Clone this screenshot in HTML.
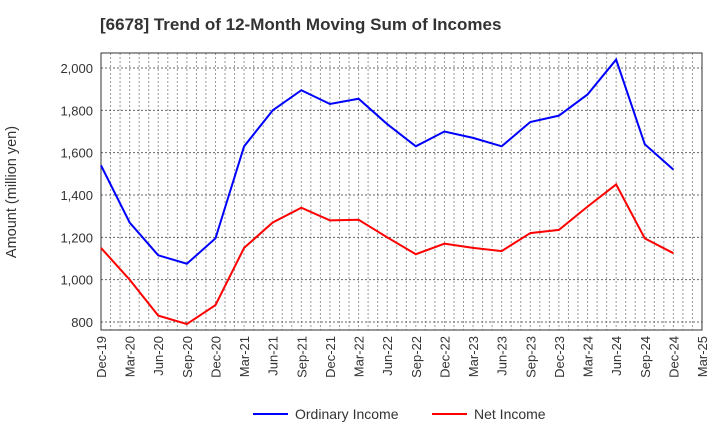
<!DOCTYPE html>
<html><head><meta charset="utf-8"><style>
body{margin:0;background:#fff;font-family:"Liberation Sans",sans-serif;}
</style></head><body>
<svg id="chart" width="720" height="440" xmlns="http://www.w3.org/2000/svg">
<text x="100" y="30" font-size="17" font-weight="bold" fill="#333">[6678]  Trend of 12-Month Moving Sum of Incomes</text>
<g id="grid"></g><g id="axes"></g><g id="series"></g>
<g>
<line x1="253" y1="414" x2="288" y2="414" stroke="#0000ff" stroke-width="2"/>
<text x="295" y="419" font-size="14" fill="#333">Ordinary Income</text>
<line x1="432" y1="414" x2="467" y2="414" stroke="#ff0000" stroke-width="2"/>
<text x="474" y="419" font-size="14" fill="#333">Net Income</text>
</g>
</svg>
<script>
const categories=["Dec-19","Mar-20","Jun-20","Sep-20","Dec-20","Mar-21","Jun-21","Sep-21","Dec-21","Mar-22","Jun-22","Sep-22","Dec-22","Mar-23","Jun-23","Sep-23","Dec-23","Mar-24","Jun-24","Sep-24","Dec-24","Mar-25"];
const ordinaryIncome=[1540,1270,1115,1075,1195,1630,1800,1895,1830,1855,1735,1630,1700,1670,1630,1745,1775,1875,2040,1640,1520];
const netIncome=[1150,1000,830,790,880,1150,1270,1340,1280,1283,1200,1120,1170,1150,1135,1220,1235,1345,1450,1195,1125];
const yTicks=[800,1000,1200,1400,1600,1800,2000];
const NS="http://www.w3.org/2000/svg";
const L=101,R=702,T=53,B=330,yMin=762,yMax=2071;
const x=i=>L+(R-L)*i/(categories.length-1);
const y=v=>B-(v-yMin)/(yMax-yMin)*(B-T);
function mk(tag,attrs,parent){const e=document.createElementNS(NS,tag);for(const k in attrs)e.setAttribute(k,attrs[k]);parent.appendChild(e);return e;}
const grid=document.getElementById('grid'),axes=document.getElementById('axes'),series=document.getElementById('series');
const months=(categories.length-1)*3;
for(let m=1;m<months;m++){const xx=L+(R-L)*m/months;const g=mk('line',{x1:xx,x2:xx,y1:T,y2:B,stroke:'#999','stroke-dasharray':'2,2','stroke-width':1},grid);

}
yTicks.forEach(v=>{const g=mk('line',{x1:L,x2:R,y1:y(v),y2:y(v),stroke:'#666','stroke-dasharray':'2,2','stroke-width':1},grid);


const t=mk('text',{x:L-8,y:y(v)+5,'font-size':13,'text-anchor':'end',fill:'#333'},axes);t.textContent=v.toLocaleString('en-US');

});
const frame=mk('rect',{x:L,y:T,width:R-L,height:B-T,fill:'none',stroke:'#333','stroke-width':1},axes);


categories.forEach((c,i)=>{const t=mk('text',{transform:`translate(${x(i)+5},${B+6}) rotate(-90)`,'font-size':13,'text-anchor':'end',fill:'#333'},axes);t.textContent=c;

});
const yt=mk('text',{transform:'translate(16,192) rotate(-90)','font-size':14.5,'text-anchor':'middle',fill:'#333'},axes);yt.textContent='Amount (million yen)';


function line(data,color,name){const p=mk('polyline',{points:data.map((v,i)=>x(i)+','+y(v)).join(' '),fill:'none',stroke:color,'stroke-width':2},series);

}
line(ordinaryIncome,'#0000ff','ordinary-income-line');
line(netIncome,'#ff0000','net-income-line');
</script>
</body></html>
